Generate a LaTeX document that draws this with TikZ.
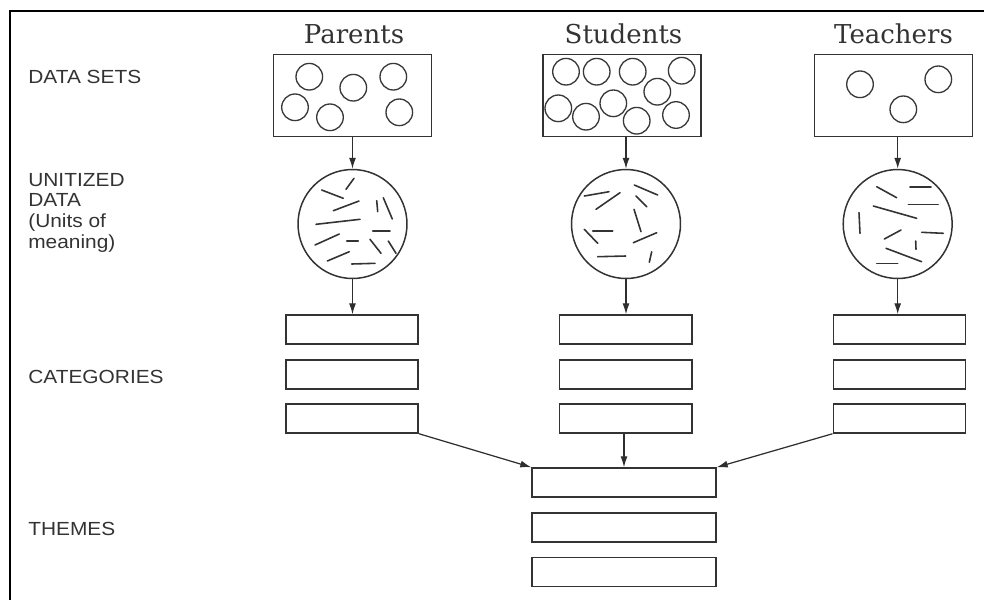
\documentclass[tikz,border=0pt]{standalone}
\usepackage{fontspec}
\setmainfont{DejaVu Serif}
\newfontfamily\labelfont[FakeStretch=1.1]{Liberation Sans}
\usetikzlibrary{arrows.meta}

\begin{document}
\begin{tikzpicture}[x=0.02cm,y=-0.02cm,
  ink/.style={draw=black!80, line width=0.85pt},
  setbox/.style={ink, rectangle, minimum width=3.16cm, minimum height=1.648cm, inner sep=0pt},
  catbox/.style={ink, rectangle, minimum width=2.65cm, minimum height=0.58cm, inner sep=0pt},
  themebox/.style={ink, rectangle, minimum width=3.68cm, minimum height=0.58cm, inner sep=0pt},
  unitball/.style={ink, circle, minimum size=2.18cm, inner sep=0pt},
  datum/.style={draw=black!78, line width=0.75pt},
  unitmark/.style={draw=black!80, line width=0.9pt, line cap=round},
  flow/.style={draw=black!82, line width=0.7pt, -{Latex[length=0.22cm,width=0.14cm]}},
  group/.style={font=\fontsize{14.8}{17}\selectfont, text=black!80, inner sep=0pt, anchor=base},
  stage/.style={font=\labelfont\fontsize{10.8}{11.7}\selectfont, text=black!80, inner sep=0pt, align=left},
]
\useasboundingbox (0,0) rectangle (984,600);

% frame
\draw[line width=1.1pt] (984,11) -- (10,11) -- (10,600);

% row labels
\node[stage, anchor=base west] (lblSets) at (28,83) {DATA SETS};
\node[stage, anchor=north west] (lblUnits) at (28,173) {UNITIZED\\DATA\\(Units of\\meaning)};
\node[stage, anchor=base west] (lblCats) at (28,383) {CATEGORIES};
\node[stage, anchor=base west] (lblThemes) at (28,535) {THEMES};

% group titles
\node[group] (titleP) at (354,43) {Parents};
\node[group] (titleS) at (623.5,43) {Students};
\node[group] (titleT) at (893.5,43) {Teachers};

% data sets
\node[setbox] (setP) at (352.5,95.5) {};
\node[setbox] (setS) at (622,95.5) {};
\node[setbox] (setT) at (893.4,95.5) {};

\foreach \cx/\cy in {309.3/76.7, 353.3/87.7, 393.3/76.7, 295/107.3, 330/117.3, 399.3/112.3,
                     566/71.7, 596.7/71.7, 632.7/71.7, 681.7/70.7, 657.3/91.7,
                     558.3/108.3, 586/116.7, 613.3/103.3, 636.7/120.7, 676/115,
                     860/84.3, 938.3/79.3, 903.3/109.3}
  \draw[datum] (\cx,\cy) circle[radius=13.3];

% unitized data
\node[unitball] (ballP) at (352.5,224) {};
\node[unitball] (ballS) at (626,224) {};
\node[unitball] (ballT) at (897.7,224) {};

\foreach \ax/\ay/\bx/\by in {
    321.7/190/343.3/198.3, 346/189.3/354/178.3, 333.3/210.7/359/201,
    376.7/200.7/377.7/211.7, 383.3/197.7/392.3/219, 316/224.3/360/219.3,
    372.7/231/390/231, 315/245/339.3/234, 346.7/241/358.3/241,
    370/239.3/381/253.3, 388.3/241/396/253.3, 327.3/261/349.3/251.7,
    351.7/264/375/263.3,
    584.3/196/609/191.7, 596/209.3/620/192.7, 634.3/185/657.7/195,
    636/196/646.7/206.7, 634/209.3/641/231.7, 584.3/229.3/597.7/243.3,
    592.7/231/612.7/231, 633.3/242.7/656.7/232.7, 597.7/256.7/625.7/256,
    651.7/251.7/649.3/262.3,
    876.7/186.7/896.7/197.7, 910/186.7/931/186.7, 873.3/206/916.7/218.3,
    908.3/204.3/938.3/204.3, 859/212.7/860/233.3, 884.3/239/901/230,
    921.7/232.3/943.3/233.3, 915.7/241/916/249.3, 886/248.3/921.7/261.7,
    876.7/263.3/897.7/263.3}
  \draw[unitmark] (\ax,\ay) -- (\bx,\by);

% categories
\foreach \k/\x in {P/352, S/625.6, T/899.5} {
  \node[catbox] (cat\k1) at (\x,329.5) {};
  \node[catbox] (cat\k2) at (\x,374.5) {};
  \node[catbox] (cat\k3) at (\x,418.5) {};
}

% themes
\node[themebox] (themeA) at (624,482.5) {};
\node[themebox] (themeB) at (624,527.5) {};
\node[themebox] (themeC) at (624,572) {};

% connectors
\draw[flow] (setP.south -| ballP.north) -- (ballP.north);
\draw[flow] (setS.south -| ballS.north) -- (ballS.north);
\draw[flow] (setT.south -| ballT.north) -- (ballT.north);

\draw[flow] (ballP.south) -- (ballP.south |- catP1.north);
\draw[flow] (ballS.south) -- (ballS.south |- catS1.north);
\draw[flow] (ballT.south) -- (ballT.south |- catT1.north);

\draw[flow] (catP3.south east) -- (themeA.north west);
\draw[flow] (catS3.south -| themeA.north) -- (themeA.north);
\draw[flow] (catT3.south west) -- (themeA.north east);
\end{tikzpicture}
\end{document}
